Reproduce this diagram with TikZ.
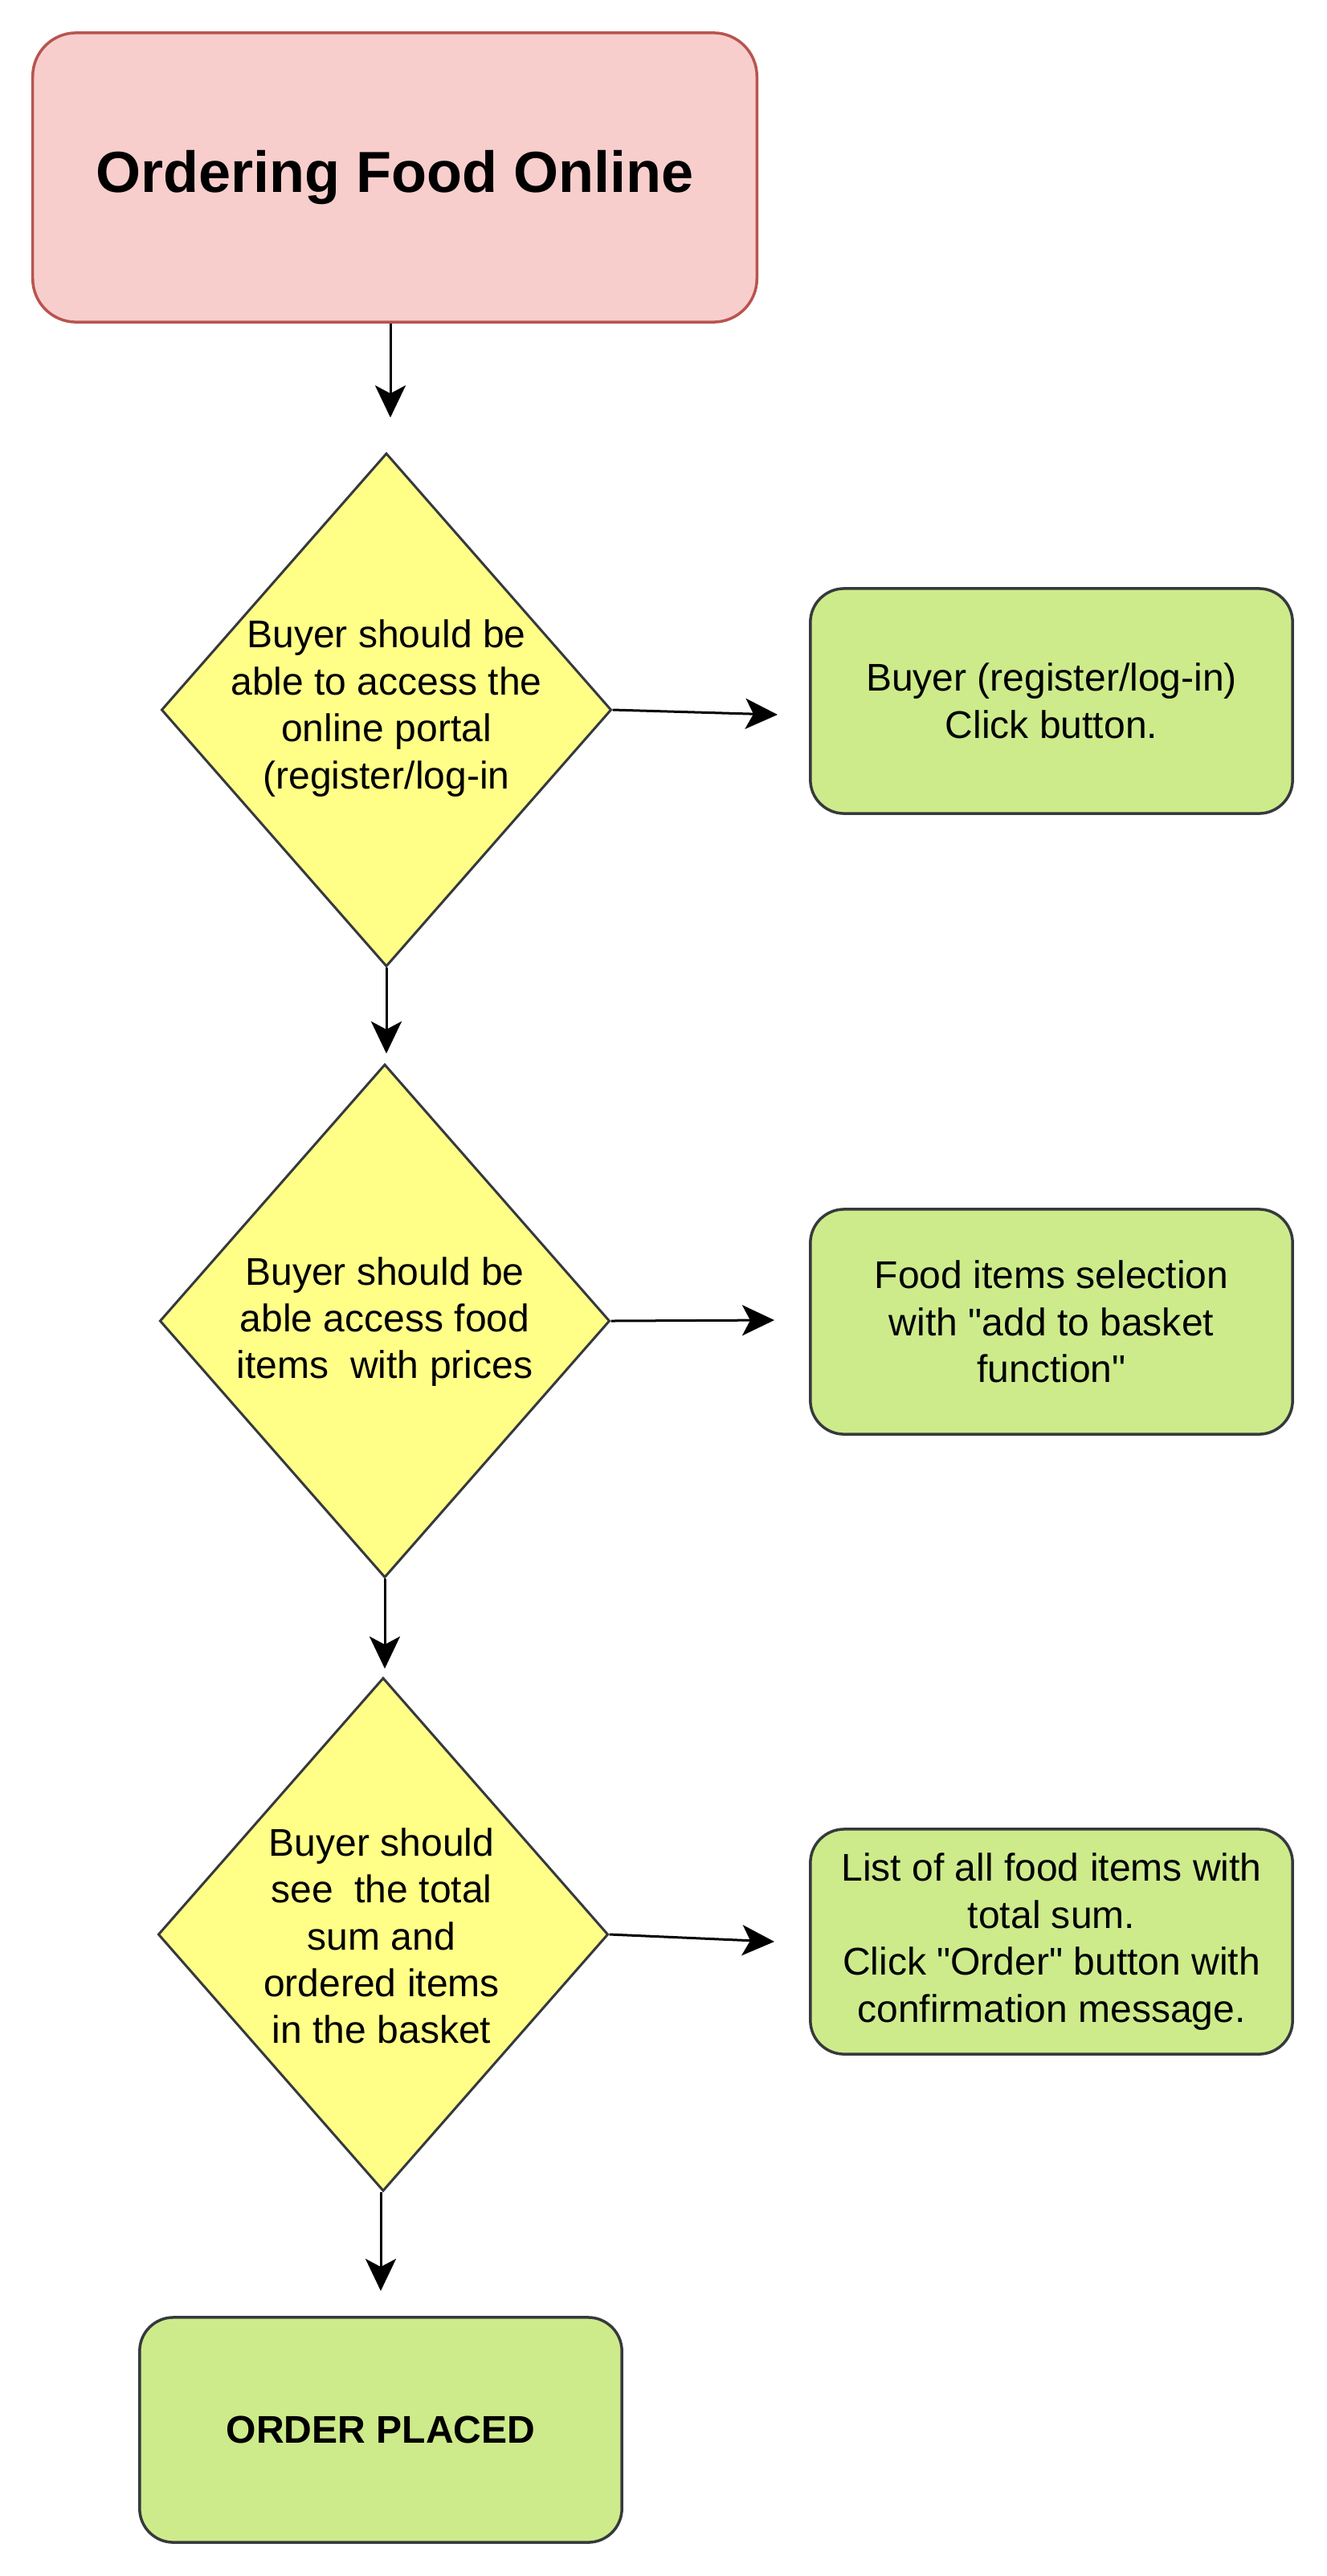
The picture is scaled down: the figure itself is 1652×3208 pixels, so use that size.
\documentclass[tikz,border=0pt]{standalone}
\usepackage{fontspec}
\setmainfont{Liberation Sans}
\newfontfamily\rawsans{Liberation Sans}
\usetikzlibrary{arrows.meta,shapes.geometric}
\definecolor{rose}{HTML}{F8CECC}
\definecolor{roseln}{HTML}{B85450}
\definecolor{lemon}{HTML}{FFFF88}
\definecolor{lime}{HTML}{CDEB8B}
\definecolor{ink}{HTML}{36393D}
\newcommand{\bodyfont}{\fontsize{13.66pt}{16.6pt}\selectfont}
\newcommand{\dq}{{\rawsans"}}
\tikzset{
  every node/.style={font=\bodyfont},
  head/.style={draw=roseln,fill=rose,line width=0.035cm,rounded corners=0.54cm,
               minimum width=9.01cm,minimum height=3.6cm,
               font=\fontsize{20.5pt}{24.6pt}\selectfont\bfseries},
  dec/.style={diamond,draw=ink,fill=lemon,line width=0.03cm,
              minimum width=5.6cm,minimum height=6.39cm,inner sep=0pt},
  dtxt/.style={align=center,inner sep=0pt},
  act/.style={draw=ink,fill=lime,line width=0.035cm,rounded corners=0.42cm,
              minimum width=6cm,minimum height=2.8cm,align=center,inner sep=2pt},
  fin/.style={act,font=\bodyfont\bfseries},
  ar/.style={-{Stealth[length=0.4cm,width=0.38cm,inset=0.1cm]},line width=0.03cm},
}

\begin{document}
\begin{tikzpicture}[x=0.01cm,y=-0.01cm]
\useasboundingbox (0,0) rectangle (1652,3208);

\node[head] (title) at (491.5,221) {Ordering Food Online};

\node[dec] (d1) at (481,884) {};
\node[dtxt] (d1txt) at (481,882) {Buyer should be\\able to access the\\online portal\\(register/log-in};
\node[act] (b1) at (1309,873) {Buyer (register/log-in)\\Click button.};

\node[dec] (d2) at (479,1645) {};
\node[dtxt] (d2txt) at (479,1646) {Buyer should be\\able access food\\items\ \ with prices};
\node[act] (b2) at (1309,1646) {Food items selection\\with \dq add to basket\\function\dq};

\node[dec] (d3) at (477,2409) {};
\node[dtxt] (d3txt) at (475,2411) {Buyer should\\see\ \ the total\\sum and\\ordered items\\in the basket};
\node[act] (b3) at (1309,2418) {List of all food items with\\total sum.\\Click \dq Order\dq{} button with\\confirmation message.};

\node[fin] (done) at (474,3026) {ORDER PLACED};

\coordinate (t0) at (486,520);
\coordinate (t1) at (481,1312);
\coordinate (t2) at (479,2078);
\coordinate (t3) at (474,2853);
\coordinate (r1) at (968,890);
\coordinate (r2) at (964,1644);
\coordinate (r3) at (964,2418);

\draw[ar] (t0 |- title.south) -- (t0);
\draw[ar] (d1.south) -- (t1);
\draw[ar] (d2.south) -- (t2);
\draw[ar] (t3 |- d3.south) -- (t3);
\draw[ar] (d1.east) -- (r1);
\draw[ar] (d2.east) -- (r2);
\draw[ar] (d3.east) -- (r3);
\end{tikzpicture}
\end{document}
